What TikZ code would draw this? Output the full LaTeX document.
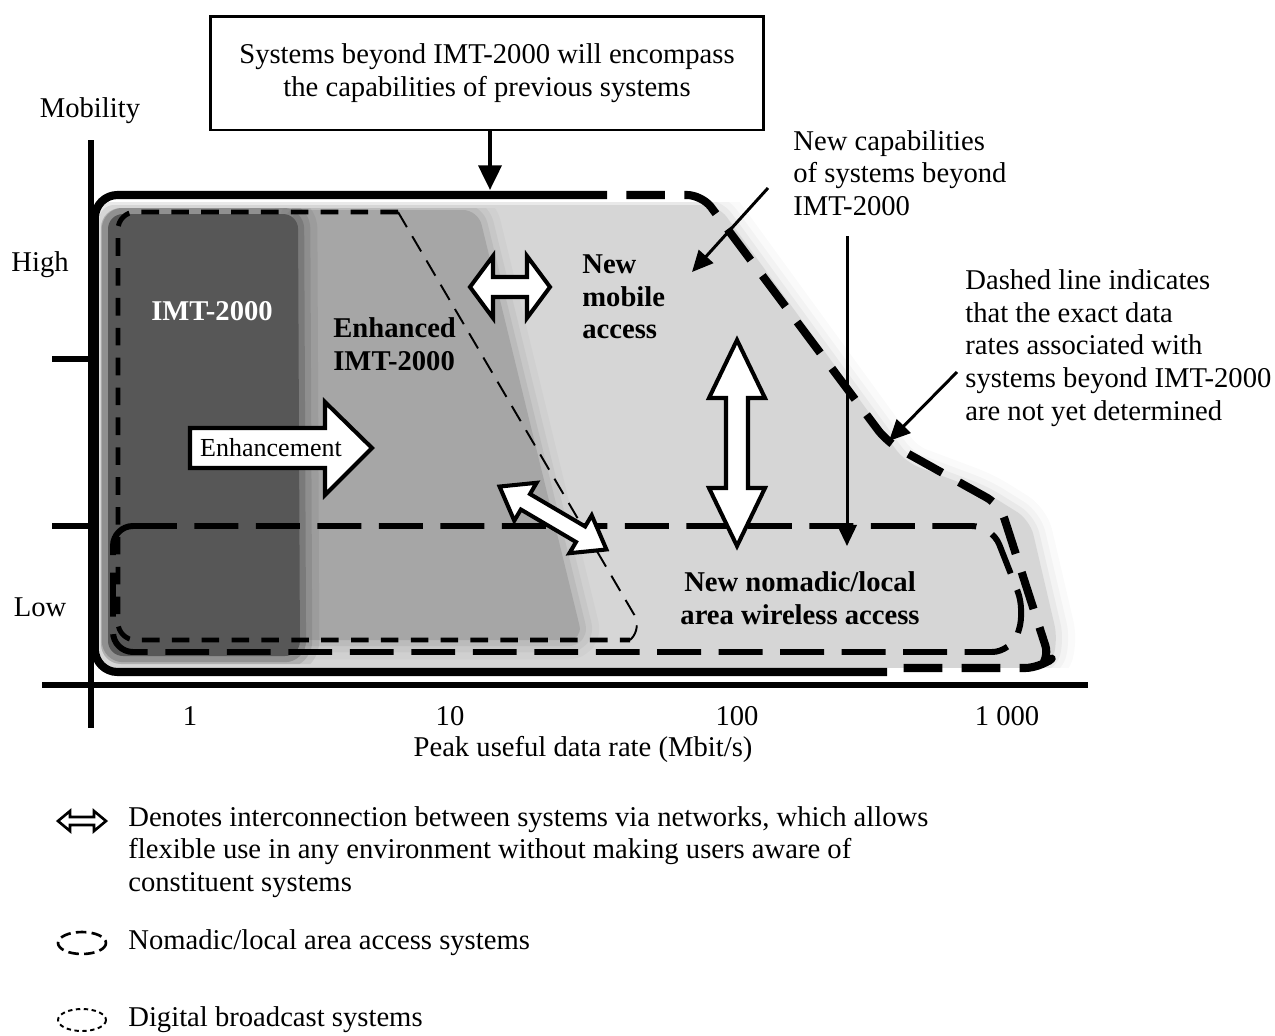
\documentclass[tikz,border=0pt]{standalone}
\usepackage{fontspec}
\setmainfont{Liberation Serif}
\usetikzlibrary{arrows.meta}

\definecolor{lightzone}{gray}{0.84}
\definecolor{midzone}{gray}{0.65}
\definecolor{darkzone}{gray}{0.34}

% filled region with a soft, blurred rim
\newcommand\softregion[2]{%
  \foreach \w/\o in {22/0.12,14/0.2,7/0.35}{%
    \draw[#1, line width=\w pt, opacity=\o, line join=round, rounded corners=0.3cm] #2;}%
  \fill[#1, rounded corners=0.3cm] #2;}

\begin{document}
\begin{tikzpicture}[x=0.02cm, y=-0.02cm,
  every node/.style={inner sep=0pt, font=\fontsize{16.3}{18.6}\selectfont},
  boldlbl/.style={font=\fontsize{16.3}{18.6}\selectfont\bfseries},
  axisline/.style={line width=3.4pt},
  outline/.style={line width=4.6pt, line join=round},
  outdash/.style={outline, dash pattern=on 22pt off 11pt, dash phase=22pt},
  nomadic/.style={line width=3.4pt, dash pattern=on 25pt off 10pt, line join=round},
  bcast/.style={line width=2.8pt, dash pattern=on 10pt off 7pt, line join=round},
  bcastthin/.style={line width=1.1pt, dash pattern=on 10pt off 6pt},
  hollow/.style={draw=black, fill=white, line width=2.3pt, line join=miter},
  pointer/.style={line width=1.7pt, -{Triangle[length=12pt,width=11pt]}},
]
\useasboundingbox (0,0) rectangle (1275,1035);

% ---------- shaded capability regions ----------
\begin{scope}
  \clip (100,202) rectangle (1275,667);
  \softregion{lightzone}{(99,205) -- (718,205) -- (878,425) -- (905,462) -- (985,492) -- (1030,520) -- (1058,640) -- (1050,668) -- (99,668) -- cycle}
\end{scope}
\begin{scope}
  \clip[rounded corners=0.4cm] (101,208) rectangle (1060,664);
  \softregion{midzone}{(290,210) -- (478,210) -- (583,640) -- (290,640) -- cycle}
  \softregion{darkzone}{(108,214) -- (298,214) -- (300,656) -- (108,656) -- cycle}
\end{scope}

% ---------- axes ----------
\coordinate (ytop) at (91,140);
\coordinate (ybot) at (91,728);
\coordinate (xleft) at (42,685);
\coordinate (xright) at (1088,685);
\draw[axisline] (ytop) -- (ybot);
\draw[axisline] (xleft) -- (xright);
\coordinate (tickhi) at (52,359);
\coordinate (ticklo) at (52,526);
\draw[axisline] (tickhi) -- (tickhi -| ytop);
\draw[axisline] (ticklo) -- (ticklo -| ytop);

\node (mobility) at (90,111) {Mobility};
\node (high) at (40,265) {High};
\node (low) at (40,607) {Low};
\node (r1) at (190,716) {1};
\node (r10) at (450,716) {10};
\node (r100) at (737,716) {100};
\node (r1000) at (1007,716) {1 000};
\node (xtitle) at (583,749) {Peak useful data rate (Mbit/s)};

% ---------- outer boundary: systems beyond IMT-2000 ----------
\draw[outline, rounded corners=0.45cm] (607,195) -- (95,195) -- (95,672) -- (887,672);
\draw[outdash, rounded corners=0.3cm] (607,195) -- (702,195) -- (887,442) -- (1000,505) -- (1050,660) -- (1040,668) -- (887,668);

% ---------- nomadic / local area access ----------
\draw[nomadic, rounded corners=0.4cm] (113,526) -- (992,526) -- (1025,610) -- (1012,652) -- (113,652) -- cycle;

% ---------- digital broadcast ----------
\draw[bcast, rounded corners=0.35cm] (398,212) -- (118,212) -- (118,640) -- (630,640);
\draw[bcastthin, rounded corners=0.3cm] (398,212) -- (642,628) -- (630,640);

% ---------- top caption box ----------
\node (topbox) [draw, line width=1.7pt, minimum width=11.06cm, minimum height=2.28cm, align=center]
  at (487,73) {Systems beyond IMT-2000 will encompass\\the capabilities of previous systems};
\coordinate (topmark) at (490,190);
\draw[line width=2.3pt, -{Triangle[length=14pt,width=13pt]}] (topbox.south -| topmark) -- (topmark);

% ---------- annotations ----------
\node (newcap) [anchor=west, align=left] at (793,173) {New capabilities\\of systems beyond\\IMT-2000};
\coordinate (capstart) at (768,188);
\coordinate (captip) at (692,272);
\draw[pointer] (capstart) -- (captip);

\coordinate (vtop) at (847,236);
\coordinate (vbot) at (847,546);
\draw[pointer] (vtop) -- (vbot);

\node (dashnote) [anchor=west, align=left] at (965,348) {Dashed line indicates\\that the exact data\\rates associated with\\systems beyond IMT-2000\\are not yet determined};
\coordinate (dlstart) at (957,372);
\coordinate (dltip) at (889,441);
\draw[pointer] (dlstart) -- (dltip);

% ---------- hollow interconnection arrows ----------
\draw[hollow, shift={(510,287)}] (-40,0) -- (-17,-31) -- (-17,-10) -- (17,-10) -- (17,-31) -- (40,0)
  -- (17,31) -- (17,10) -- (-17,10) -- (-17,31) -- cycle;
\draw[hollow, shift={(737,443)}] (0,-103) -- (28,-45) -- (11,-45) -- (11,45) -- (28,45) -- (0,103)
  -- (-28,45) -- (-11,45) -- (-11,-45) -- (-28,-45) -- cycle;
\draw[hollow, shift={(553,518)}, rotate=-30.5] (-62,0) -- (-32,-22) -- (-32,-9) -- (32,-9) -- (32,-22) -- (62,0)
  -- (32,22) -- (32,9) -- (-32,9) -- (-32,22) -- cycle;

% enhancement arrow
\draw[hollow] (190,428) -- (325,428) -- (325,402) -- (372,448) -- (325,495) -- (325,468) -- (190,468) -- cycle;
\node (enh) [font=\fontsize{14.8}{17}\selectfont] at (271,448) {Enhancement};

% ---------- region labels ----------
\node (imt) [boldlbl, text=white] at (212,311) {IMT-2000};
\node (enhimt) [boldlbl, anchor=west, align=left] at (333,344) {Enhanced\\IMT-2000};
\node (newmob) [boldlbl, anchor=west, align=left] at (582,297) {New\\mobile\\access};
\node (newnom) [boldlbl, align=center] at (800,598) {New nomadic/local\\area wireless access};

% ---------- legend ----------
\draw[line width=1.5pt, fill=white, shift={(82,821)}] (-24,0) -- (-12,-10) -- (-12,-4) -- (12,-4) -- (12,-10) -- (24,0)
  -- (12,10) -- (12,4) -- (-12,4) -- (-12,10) -- cycle;
\node (leg1) [anchor=west, align=left] at (128,852) {Denotes interconnection between systems via networks, which allows\\flexible use in any environment without making users aware of\\constituent systems};
\draw[line width=1.5pt, dash pattern=on 6pt off 3pt] (82,943) ellipse (24 and 11);
\node (leg2) [anchor=west] at (128,943) {Nomadic/local area access systems};
\draw[line width=1.1pt, dash pattern=on 2.5pt off 2pt] (82,1020) ellipse (24 and 11);
\node (leg3) [anchor=west] at (128,1020) {Digital broadcast systems};
\end{tikzpicture}
\end{document}
